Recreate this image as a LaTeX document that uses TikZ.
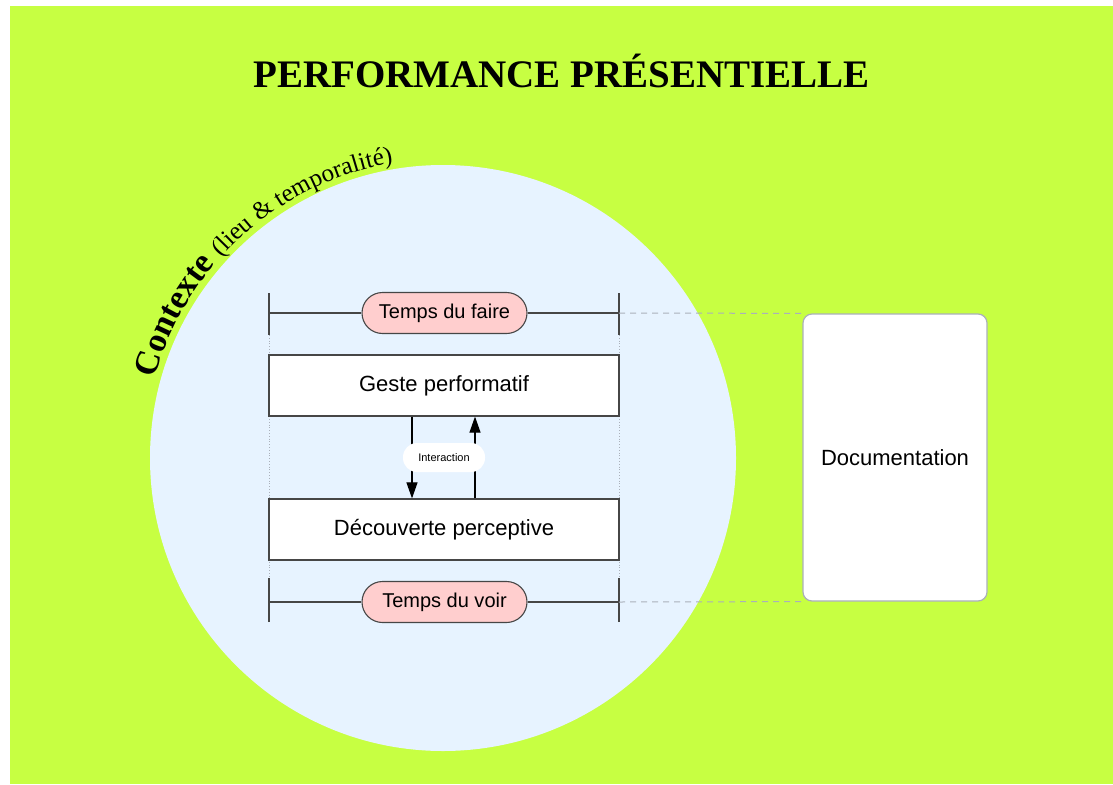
\documentclass[tikz,border=0pt]{standalone}
\usepackage{fontspec}
\setmainfont{Liberation Serif}
\setsansfont{Liberation Sans}
\usepackage{xcolor}
\usepackage{tikz}
\usetikzlibrary{shapes.geometric, shapes.misc, arrows.meta, decorations.text, positioning, calc}
\definecolor{fondvert}{RGB}{199,255,66}
\definecolor{cercle}{RGB}{231,243,255}
\definecolor{rose}{RGB}{255,206,206}
\definecolor{trait}{RGB}{70,70,70}
\definecolor{gristrait}{RGB}{170,176,186}
\tikzset{
  bloc/.style={rectangle, draw=trait, line width=1.2pt, fill=white,
               minimum width=350pt, minimum height=61pt, align=center,
               font=\sffamily\fontsize{22}{26}\selectfont},
  temps/.style={rectangle, rounded corners=20.5pt, draw=trait, line width=1.1pt, fill=rose,
                minimum width=165pt, minimum height=41pt, inner xsep=0pt,
                font=\sffamily\fontsize{20}{24}\selectfont},
  doc/.style={rectangle, rounded corners=9pt, draw=gristrait, line width=1.2pt, fill=white,
              minimum width=184pt, minimum height=287pt, align=center,
              font=\sffamily\fontsize{22}{26}\selectfont},
  pastille/.style={rectangle, rounded corners=14pt, fill=white, minimum width=82pt, minimum height=29pt,
                   font=\sffamily\fontsize{11}{13}\selectfont},
  barre/.style={draw=trait, line width=1.2pt},
  pointille/.style={draw=gristrait, line width=1pt, dash pattern=on 6pt off 5pt},
  guide/.style={draw=gristrait, line width=0.8pt, dotted},
  fleche/.style={-{Triangle[length=16pt, width=11pt]}, draw=black, line width=1.1pt},
}

\begin{document}
\begin{tikzpicture}[x=1pt, y=1pt]

% Fond
\useasboundingbox (0,0) rectangle (1113,-784);
\fill[white] (0,0) rectangle (1113,-784);
\fill[fondvert] (10,-6) rectangle (1113,-784);

% Titre
\node[anchor=base, font=\fontsize{39}{45}\selectfont\bfseries] (titre) at (561.5,-87) {PERFORMANCE PRÉSENTIELLE};

% ========== Contexte (cercle) ==========
\coordinate (ctr) at (443,-458);
\fill[cercle] (ctr) circle (293);
\path[decorate, decoration={text along path, text align=left,
      text={|\fontsize{34}{34}\selectfont\bfseries|Contexte |\fontsize{25}{25}\selectfont|(lieu {\&} temporalit{é})}}]
  ([shift={(164.5:299)}]ctr) arc[start angle=164.5, end angle=80, radius=299];

% ========== Bornes temporelles ==========
\coordinate (hautG) at (269,-293);
\coordinate (basG)  at (269,-622);
\coordinate (hautD) at (619,-293);
\coordinate (basD)  at (619,-622);
\coordinate (faireG) at (269,-313);
\coordinate (faireD) at (619,-313);
\coordinate (voirG)  at (269,-602);
\coordinate (voirD)  at (619,-602);

\draw[guide] (hautG) -- (basG);
\draw[guide] (hautD) -- (basD);
\draw[barre] (hautG) -- ++(0,-42);
\draw[barre] (hautD) -- ++(0,-42);
\draw[barre] (basG) -- ++(0,44);
\draw[barre] (basD) -- ++(0,44);

% Temps du faire / Temps du voir
\node[temps] (faire) at (444.5,-313) {Temps du faire};
\node[temps] (voir)  at (444.5,-602) {Temps du voir};
\draw[barre] (faireG) -- (faire.west);
\draw[barre] (faire.east) -- (faireD);
\draw[barre] (voirG) -- (voir.west);
\draw[barre] (voir.east) -- (voirD);

% ========== Blocs ==========
\node[bloc] (geste)      at (444,-385.5) {Geste performatif};
\node[bloc] (decouverte) at (444,-529.5) {Découverte perceptive};

% Interaction
\draw[fleche] ([xshift=-32pt]geste.south) -- ([xshift=-32pt]decouverte.north);
\draw[fleche] ([xshift=31pt]decouverte.north) -- ([xshift=31pt]geste.south);
\node[pastille] (interaction) at (444,-457.5) {Interaction};

% ========== Documentation ==========
\node[doc] (documentation) at (895,-457.5) {Documentation};
\draw[pointille] (faireD) -- (documentation.north west);
\draw[pointille] (voirD) -- (documentation.south west);

\end{tikzpicture}
\end{document}
